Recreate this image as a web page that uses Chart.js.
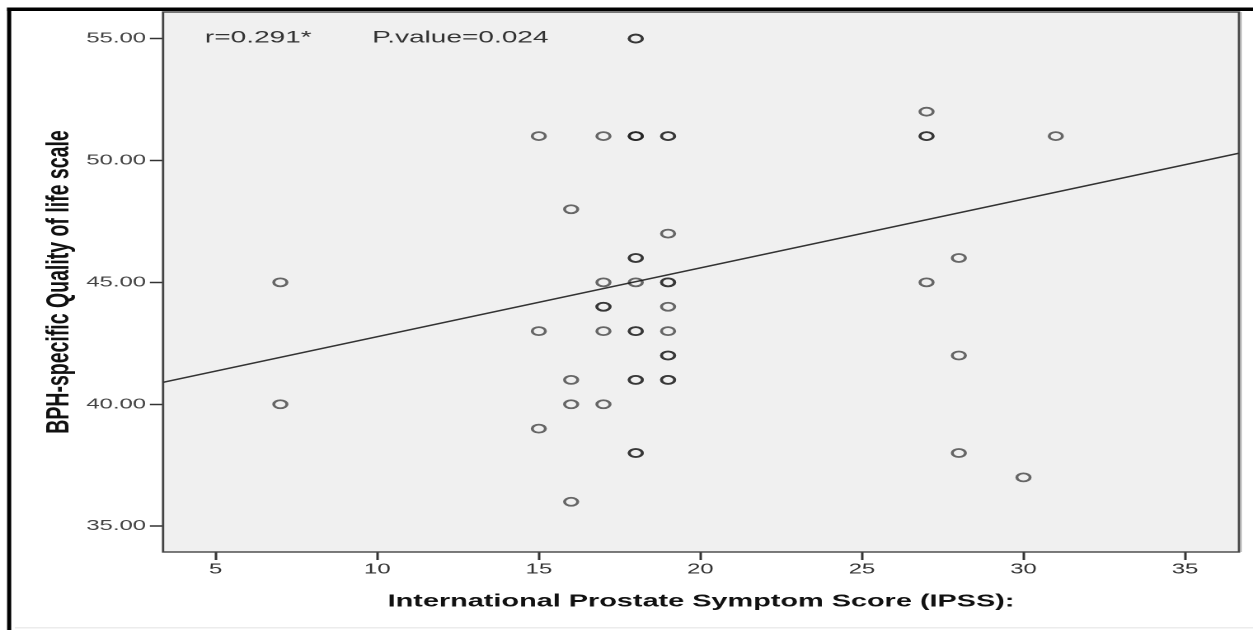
<!DOCTYPE html>
<html>
<head>
<meta charset="utf-8">
<script src="https://cdn.jsdelivr.net/npm/chart.js@4.4.0/dist/chart.umd.min.js"></script>
<style>
  html, body { margin: 0; padding: 0; background: #fff; overflow: hidden; }
  /* a figura original esta esticada na horizontal, por isso o scaleX */
  #wrap { width: 760px; height: 630px; transform: scaleX(1.64868); transform-origin: 0 0; }
</style>
</head>
<body>
<div id="wrap"><canvas id="graficoIpss" width="760" height="630"></canvas></div>
<script>
// IPSS de cada paciente (eixo x) - pontos repetidos aparecem mais escuros
const ipss = [7, 7,
  15, 15, 15,
  16, 16, 16, 16,
  17, 17, 17, 17, 17, 17,
  18, 18, 18, 18, 18, 18, 18, 18, 18, 18, 18, 18, 18, 18,
  19, 19, 19, 19, 19, 19, 19, 19, 19, 19, 19,
  27, 27, 27, 27,
  28, 28, 28,
  30,
  31];

// escala de qualidade de vida especifica da HPB (eixo y)
const qualidade = [45, 40,
  51, 43, 39,
  48, 41, 40, 36,
  51, 45, 44, 44, 43, 40,
  55, 55, 51, 51, 51, 46, 46, 45, 43, 43, 41, 41, 38, 38,
  51, 51, 47, 45, 45, 44, 43, 42, 42, 41, 41,
  52, 51, 51, 45,
  46, 42, 38,
  37,
  51];

const retaX = [3.37, 36.67];
const retaY = [40.9, 50.3];

// marcas dos eixos
const ticksX = [5, 10, 15, 20, 25, 30, 35];
const ticksY = [35, 40, 45, 50, 55];

const textoR = 'r=0.291*';
const textoP = 'P.value=0.024';

const fonte = '"Liberation Sans", Arial, sans-serif';

// fundo cinza, moldura e textos de r / p
const fundo = {
  id: 'fundo',
  beforeDraw(chart) {
    const { ctx, chartArea: a, width, height } = chart;
    ctx.save();
    ctx.fillStyle = '#fff';
    ctx.fillRect(0, 0, width, height);
    ctx.fillStyle = '#f0f0f0';
    ctx.fillRect(a.left, a.top, a.right - a.left, a.bottom - a.top);
    ctx.fillStyle = '#000';
    ctx.fillRect(4.3, 7.5, width, 3.5);
    ctx.fillRect(4.3, 7.5, 2.5, height);
    ctx.fillStyle = '#ececec';
    ctx.fillRect(9, height - 3, width, 1.5);
    ctx.restore();
  },
  beforeDatasetsDraw(chart) {
    const { ctx, chartArea: a } = chart;
    ctx.save();
    ctx.strokeStyle = '#444';
    ctx.lineWidth = 1.4;
    ctx.strokeRect(a.left, a.top, a.right - a.left, a.bottom - a.top);
    ctx.strokeStyle = '#aaa';
    ctx.lineWidth = 0.8;
    ctx.beginPath();
    ctx.moveTo(a.right + 1.2, a.top);
    ctx.lineTo(a.right + 1.2, a.bottom);
    ctx.stroke();
    ctx.restore();
  },
  afterDraw(chart) {
    const { ctx, chartArea: a } = chart;
    ctx.save();
    ctx.font = '17px ' + fonte;
    ctx.fillStyle = '#333';
    ctx.textBaseline = 'middle';
    ctx.fillText(textoR, a.left + 25.4, 38);
    ctx.fillText(textoP, a.left + 126.8, 38);
    ctx.restore();
  }
};

const pontos = ipss.map((x, i) => ({ x: x, y: qualidade[i] }));
const reta = retaX.map((x, i) => ({ x: x, y: retaY[i] }));

const grafico = new Chart(document.getElementById('graficoIpss'), {
  type: 'scatter',
  data: {
    datasets: [{
      label: 'pacientes',
      data: pontos,
      pointStyle: 'circle',
      pointRadius: 4,
      pointBorderWidth: 1.8,
      pointBorderColor: 'rgba(30,30,30,0.66)',
      pointBackgroundColor: 'rgba(0,0,0,0)'
    }, {
      label: 'reta',
      data: reta,
      showLine: true,
      pointRadius: 0,
      borderColor: '#333',
      borderWidth: 1.5
    }]
  },
  options: {
    responsive: false,
    animation: false,
    devicePixelRatio: 2,
    events: [],
    layout: { padding: { top: 12, right: 8.5, left: 0, bottom: 0 } },
    plugins: { legend: { display: false }, tooltip: { enabled: false } },
    scales: {
      x: {
        type: 'linear',
        min: 3.37,
        max: 36.67,
        afterFit: s => { s.height = 78; },
        afterBuildTicks: s => { s.ticks = ticksX.map(v => ({ value: v })); },
        border: { display: false },
        grid: { drawOnChartArea: false, drawTicks: true, tickLength: 8, tickColor: '#333', tickWidth: 1.5 },
        ticks: {
          padding: 1,
          color: '#333',
          font: { family: fonte, size: 14.5 },
          callback: v => String(v)
        },
        title: {
          display: true,
          text: 'International Prostate Symptom Score (IPSS):',
          color: '#111',
          font: { family: fonte, size: 17.5, weight: 'bold' },
          padding: { top: 0, bottom: 18 }
        }
      },
      y: {
        type: 'linear',
        min: 33.94,
        max: 56.09,
        afterFit: s => { s.width = 98.9; },
        afterBuildTicks: s => { s.ticks = ticksY.map(v => ({ value: v })); },
        border: { display: false },
        grid: { drawOnChartArea: false, drawTicks: true, tickLength: 8, tickColor: '#333', tickWidth: 1.5 },
        ticks: {
          padding: 2.3,
          color: '#444',
          font: { family: fonte, size: 14.5 },
          callback: v => v.toFixed(2)
        },
        title: {
          display: true,
          text: 'BPH-specific Quality of life scale',
          color: '#111',
          font: { family: fonte, size: 19.5, weight: 'bold' },
          padding: { top: 24.6, bottom: 0 }
        }
      }
    }
  },
  plugins: [fundo]
});
</script>
</body>
</html>
